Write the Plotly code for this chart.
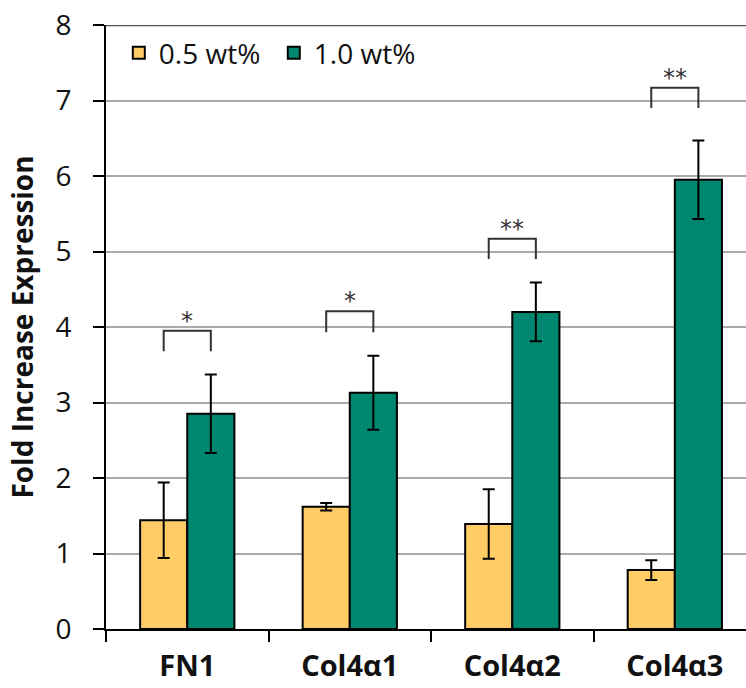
import plotly.graph_objects as go

categories = ["FN1", "Col4α1", "Col4α2", "Col4α3"]
series_names = ["0.5 wt%", "1.0 wt%"]
low_vals = [1.44, 1.62, 1.39, 0.78]
low_err = [0.50, 0.05, 0.46, 0.13]
high_vals = [2.85, 3.13, 4.20, 5.95]
high_err = [0.52, 0.49, 0.39, 0.52]
sig_top = [3.95, 4.21, 5.17, 7.17]
sig_leg = [3.68, 3.93, 4.90, 6.90]
sig_labels = ["*", "*", "**", "**"]
y_ticks = [0, 1, 2, 3, 4, 5, 6, 7, 8]

YELLOW = "#FFCC66"
GREEN = "#008770"
FONT = "Open Sans"

fig = go.Figure()
for name, vals, errs, col in [(series_names[0], low_vals, low_err, YELLOW),
                              (series_names[1], high_vals, high_err, GREEN)]:
    fig.add_trace(go.Bar(
        x=categories, y=vals, name=name,
        marker=dict(color=col, line=dict(color="black", width=2)),
        error_y=dict(type="data", array=errs, visible=True, color="black",
                     thickness=2, width=6),
    ))

off = 0.145
for i, (t, l, lab) in enumerate(zip(sig_top, sig_leg, sig_labels)):
    fig.add_shape(type="path",
                  path=f"M {i-off} {l} L {i-off} {t} L {i+off} {t} L {i+off} {l}",
                  xref="x", yref="y", line=dict(color="#333", width=2))
    fig.add_annotation(x=i, y=t, text=lab, showarrow=False, yanchor="bottom",
                       yshift=-6, font=dict(family="DejaVu Sans", size=24, color="#333"))

fig.add_shape(type="line", xref="paper", yref="y", x0=0, x1=1, y0=8, y1=8,
              line=dict(color="#555", width=2.5))

fig.update_layout(
    width=746, height=688,
    margin=dict(l=106, r=0, t=25, b=59),
    paper_bgcolor="white", plot_bgcolor="white",
    barmode="group", bargap=0.42, bargroupgap=0,
    font=dict(family=FONT, color="#111"),
    legend=dict(orientation="h", x=0.02, y=0.995, xanchor="left", yanchor="top",
                font=dict(family=FONT, size=28, color="#111"),
                bgcolor="rgba(0,0,0,0)", itemwidth=30,
                entrywidth=110, entrywidthmode="pixels"),
    showlegend=True,
)
fig.update_xaxes(
    type="category", range=[-0.5, 3.438],
    showline=True, linecolor="black", linewidth=2,
    ticks="outside", tickson="boundaries", ticklen=11, tickwidth=2, tickcolor="black",
    tickfont=dict(family=FONT, size=29, color="#111", weight="bold"),
    ticklabelstandoff=10,
    showgrid=False,
)
fig.update_yaxes(
    range=[0, 8], tickvals=y_ticks,
    showline=True, linecolor="black", linewidth=2,
    ticks="outside", ticklen=11, tickwidth=2, tickcolor="black",
    tickfont=dict(family=FONT, size=28, color="#111"),
    ticklabelstandoff=16,
    showgrid=True, gridcolor="#AAAAAA", gridwidth=2,
    zeroline=False,
    title=dict(text="Fold Increase Expression",
               font=dict(family=FONT, size=28, color="#111", weight="bold"),
               standoff=14),
)

fig.write_html("out.html")
